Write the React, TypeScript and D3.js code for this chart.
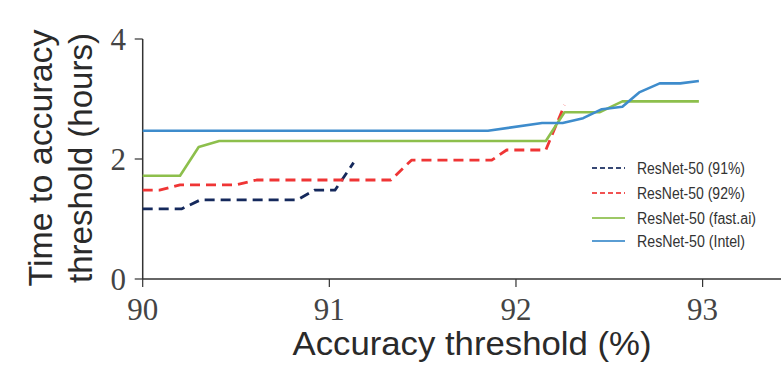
import React from "react";
import * as d3 from "d3";

const x91 = [90, 90.21, 90.31, 90.83, 90.92, 91.03, 91.13];
const y91 = [1.17, 1.17, 1.32, 1.32, 1.48, 1.48, 1.94];

const x92 = [90, 90.09, 90.2, 90.5, 90.61, 91.33, 91.44, 91.87, 91.95, 92.16, 92.26];
const y92 = [1.48, 1.48, 1.57, 1.57, 1.65, 1.65, 1.98, 1.98, 2.15, 2.15, 2.9];

const xFast = [90, 90.2, 90.3, 90.41, 92.16, 92.26, 92.45, 92.57, 92.98];
const yFast = [1.72, 1.72, 2.2, 2.3, 2.3, 2.78, 2.78, 2.96, 2.96];

const xIntel = [90, 91.85, 92.14, 92.25, 92.36, 92.46, 92.57, 92.66, 92.77, 92.88, 92.98];
const yIntel = [2.47, 2.47, 2.6, 2.6, 2.68, 2.83, 2.87, 3.11, 3.26, 3.26, 3.3];

const legendLabels = ["ResNet-50 (91%)", "ResNet-50 (92%)", "ResNet-50 (fast.ai)", "ResNet-50 (Intel)"];
const xTicks = [90, 91, 92, 93];
const yTicks = [0, 2, 4];

const W = 781;
const H = 382;

export default function App() {
  const x = d3.scaleLinear().domain([90, 93.42]).range([142.7, 781]);
  const y = d3.scaleLinear().domain([0, 4]).range([279, 39]);
  const line = d3
    .line<[number, number]>()
    .x((d) => x(d[0]))
    .y((d) => y(d[1]));

  const series = [
    { xs: x91, ys: y91, color: "#15295c", dash: "10,6", width: 2.8, label: legendLabels[0] },
    { xs: x92, ys: y92, color: "#ef3535", dash: "10,6", width: 2.8, label: legendLabels[1] },
    { xs: xFast, ys: yFast, color: "#8dbf4c", dash: null, width: 2.6, label: legendLabels[2] },
    { xs: xIntel, ys: yIntel, color: "#3e8ccc", dash: null, width: 2.6, label: legendLabels[3] },
  ];
  const legendW = [108, 108, 119, 108];
  const legendY = [168, 193, 218, 241];

  const axisColor = "#333";
  const serif = "'Liberation Serif', 'DejaVu Serif', serif";
  const sans = "'Liberation Sans', 'DejaVu Sans', sans-serif";

  return (
    <svg width={W} height={H} style={{ position: "absolute", left: 0, top: 0, background: "#fff" }}>
      <rect x={0} y={0} width={W} height={H} fill="#fff" />
      {/* axes */}
      <line x1={x(90)} x2={x(90)} y1={y(4)} y2={y(0)} stroke={axisColor} strokeWidth={1.5} />
      <line x1={x(90)} x2={x.range()[1]} y1={y(0)} y2={y(0)} stroke={axisColor} strokeWidth={1.5} />
      {yTicks.map((t) => (
        <g key={"y" + t}>
          <line x1={x(90) - 8} x2={x(90)} y1={y(t)} y2={y(t)} stroke={axisColor} strokeWidth={1.2} />
          <text x={126} y={y(t)} dy="0.35em" textAnchor="end" fontFamily={serif} fontSize={31} fill="#444">
            {t}
          </text>
        </g>
      ))}
      {xTicks.map((t) => (
        <g key={"x" + t}>
          <line x1={x(t)} x2={x(t)} y1={y(0)} y2={y(0) + 8} stroke={axisColor} strokeWidth={1.2} />
          <text x={x(t)} y={320} textAnchor="middle" fontFamily={serif} fontSize={31} fill="#444">
            {t}
          </text>
        </g>
      ))}
      {/* axis labels */}
      <text
        x={472}
        y={355}
        textAnchor="middle"
        fontFamily={sans}
        fontSize={33}
        fill="#2a2a2a"
        textLength={359}
        lengthAdjust="spacingAndGlyphs"
      >
        Accuracy threshold (%)
      </text>
      <g transform="translate(52,158) rotate(-90)">
        <text x={0} y={0} textAnchor="middle" fontFamily={sans} fontSize={33} fill="#2a2a2a" textLength={257} lengthAdjust="spacingAndGlyphs">
          Time to accuracy
        </text>
      </g>
      <g transform="translate(92,158) rotate(-90)">
        <text x={0} y={0} textAnchor="middle" fontFamily={sans} fontSize={33} fill="#2a2a2a" textLength={250} lengthAdjust="spacingAndGlyphs">
          threshold (hours)
        </text>
      </g>
      {/* series */}
      {series.map((s, i) => (
        <path
          key={"s" + i}
          d={line(s.xs.map((v, j) => [v, s.ys[j]] as [number, number])) || ""}
          fill="none"
          stroke={s.color}
          strokeWidth={s.width}
          strokeDasharray={s.dash || undefined}
          strokeLinejoin="round"
        />
      ))}
      {/* legend */}
      {series.map((s, i) => (
        <g key={"l" + i}>
          <line
            x1={592}
            x2={625}
            y1={legendY[i]}
            y2={legendY[i]}
            stroke={s.color}
            strokeWidth={1.8}
            strokeDasharray={s.dash ? "5,3" : undefined}
            opacity={0.85}
          />
          <text
            x={637}
            y={legendY[i]}
            dy="0.35em"
            fontFamily={sans}
            fontSize={16}
            fill="#333"
            textLength={legendW[i]}
            lengthAdjust="spacingAndGlyphs"
          >
            {s.label}
          </text>
        </g>
      ))}
    </svg>
  );
}
